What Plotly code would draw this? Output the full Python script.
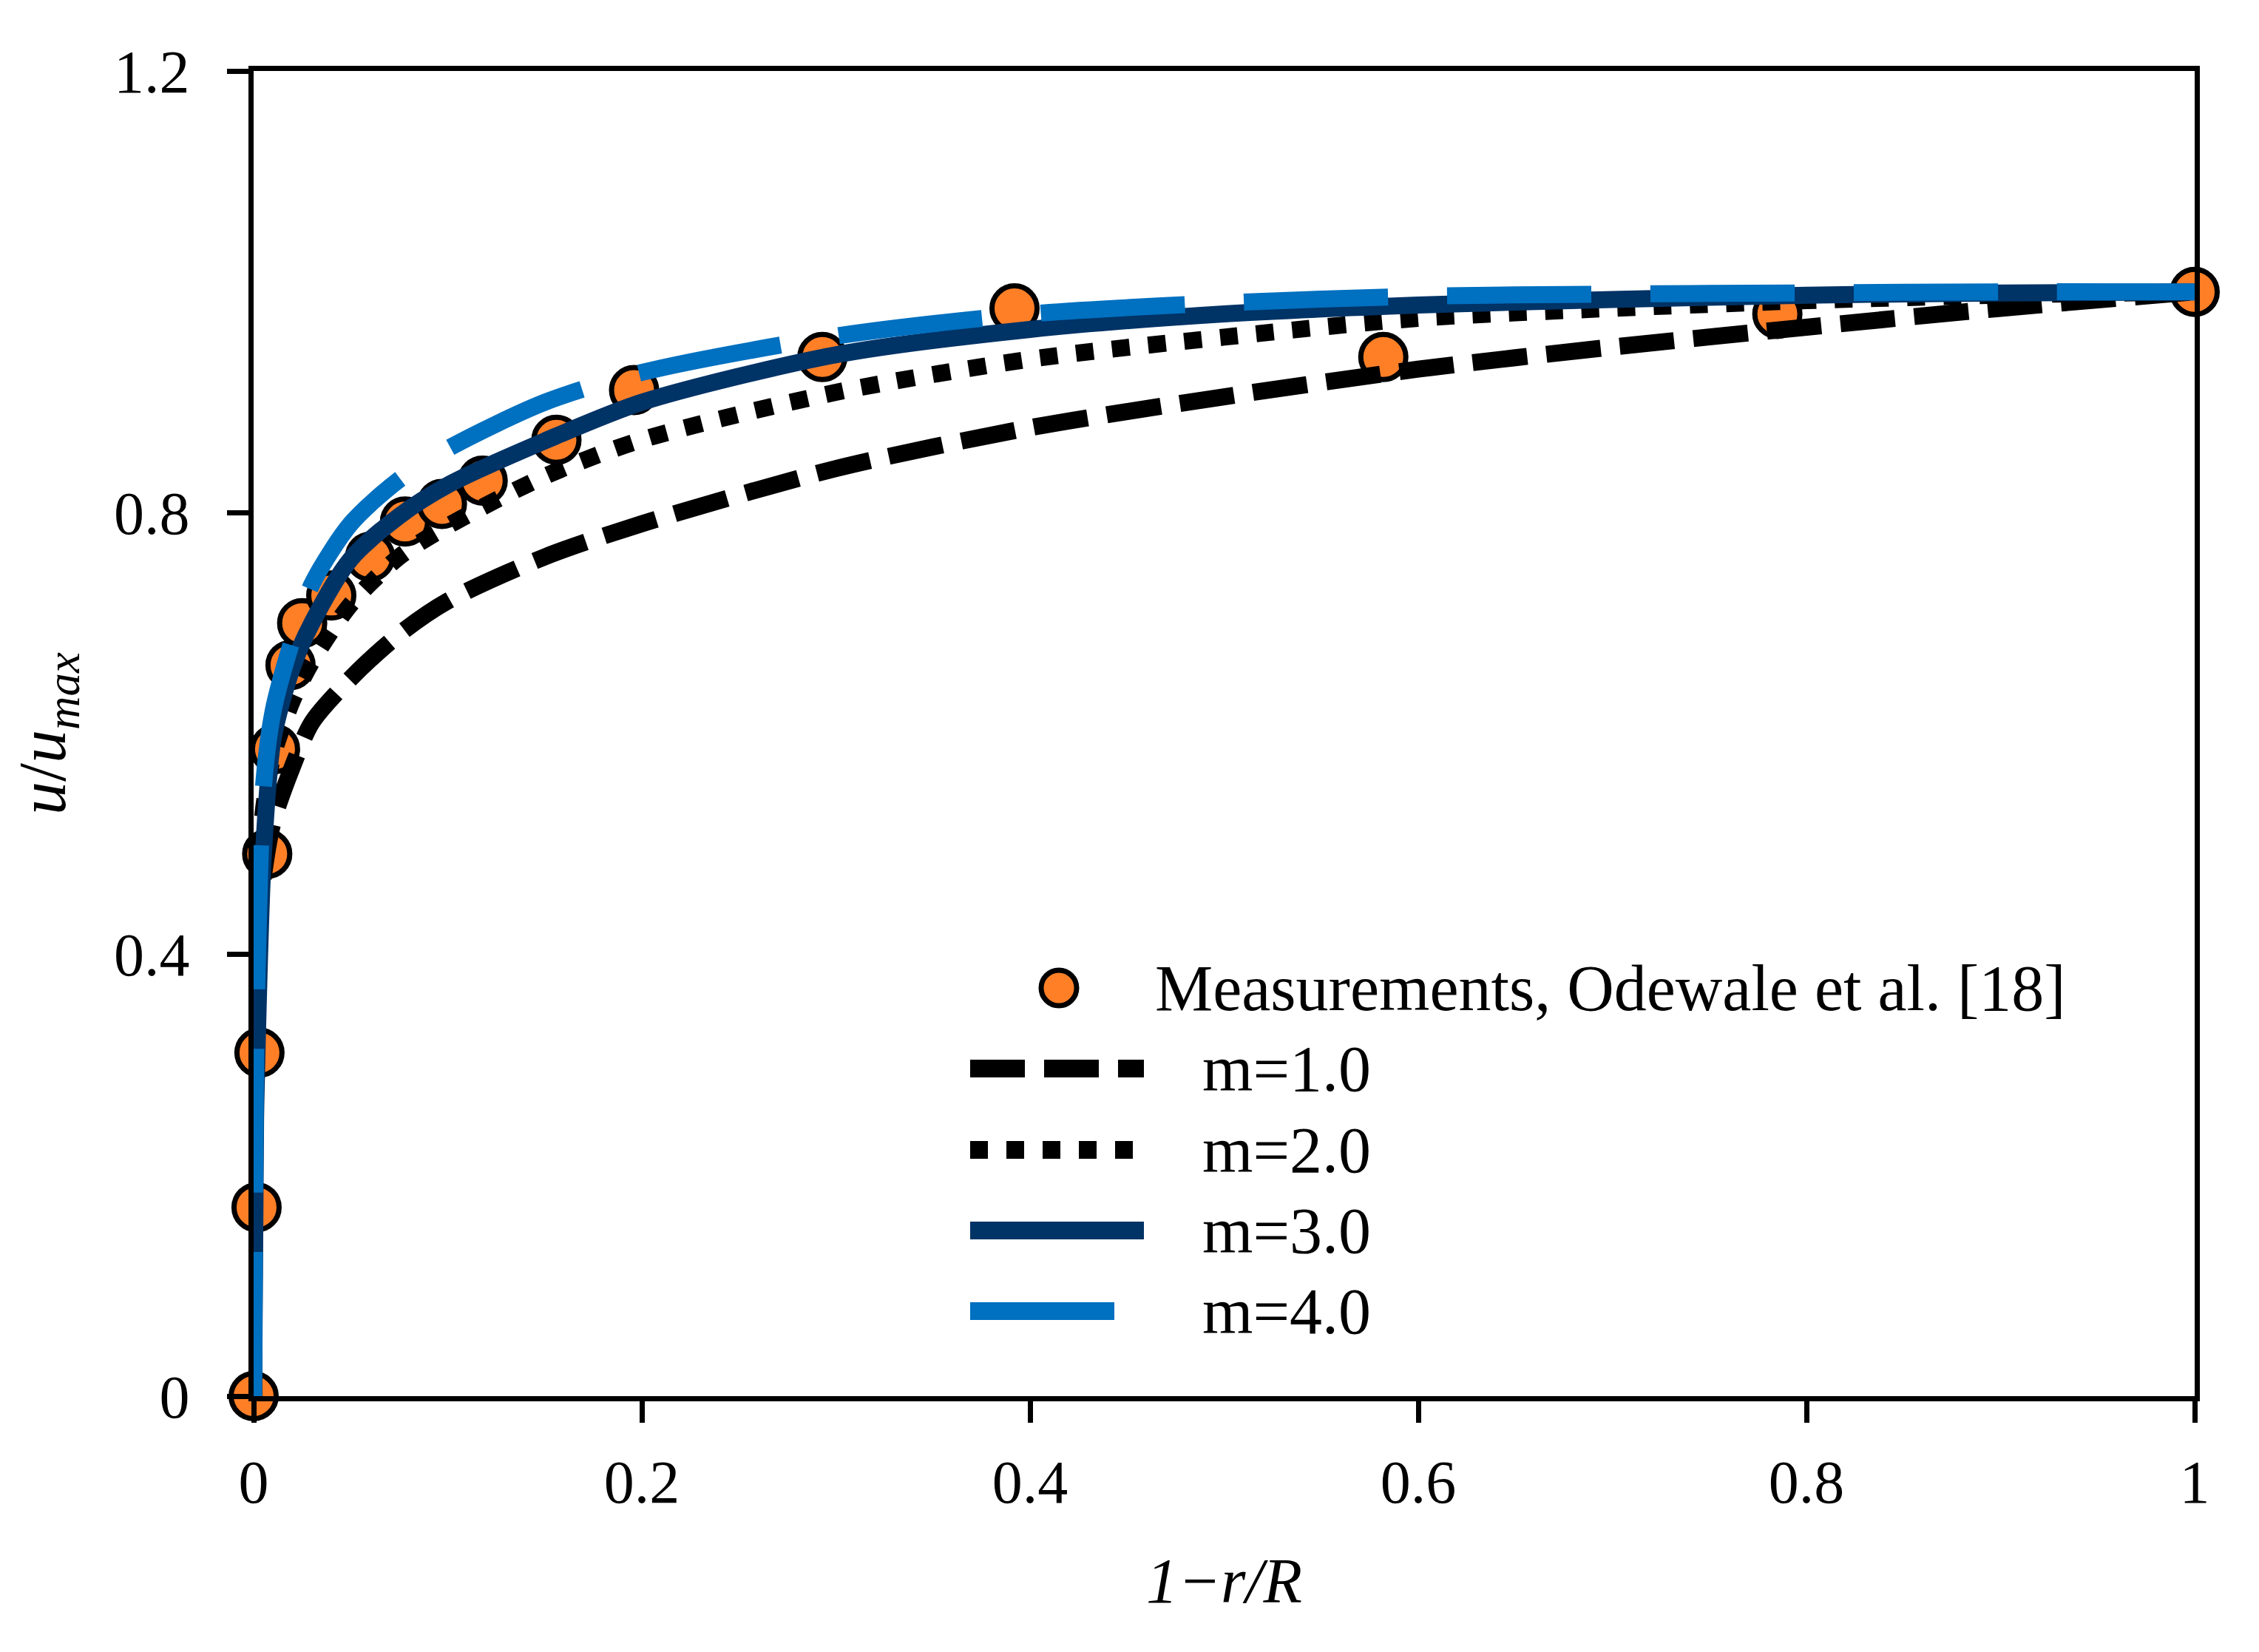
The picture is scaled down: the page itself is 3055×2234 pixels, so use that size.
import plotly.graph_objects as go

x_meas = [0, 0.0015, 0.003, 0.007, 0.011, 0.019, 0.025, 0.040, 0.060, 0.078,
          0.097, 0.118, 0.156, 0.196, 0.293, 0.392, 0.582, 0.785, 1.0]
y_meas = [0, 0.171, 0.311, 0.491, 0.586, 0.662, 0.700, 0.725, 0.760, 0.792,
          0.808, 0.829, 0.866, 0.911, 0.941, 0.985, 0.941, 0.980, 1.0]

# model curves, values read at these positions
x_model = [0, 0.001, 0.002, 0.005, 0.01, 0.02, 0.03, 0.05, 0.075, 0.1,
           0.15, 0.2, 0.3, 0.4, 0.5, 0.6, 0.7, 0.8, 0.9, 1.0]
m1 = [0, 0.37, 0.41, 0.47, 0.52, 0.57, 0.61, 0.65, 0.69, 0.72,
      0.76, 0.79, 0.84, 0.877, 0.905, 0.93, 0.95, 0.968, 0.985, 1.0]
m2 = [0, 0.36, 0.44, 0.53, 0.58, 0.63, 0.665, 0.717, 0.76, 0.788,
      0.833, 0.866, 0.909, 0.939, 0.959, 0.976, 0.985, 0.992, 0.997, 1.0]
m3 = [0, 0.25, 0.33, 0.49, 0.595, 0.66, 0.70, 0.758, 0.797, 0.825,
      0.865, 0.90, 0.943, 0.966, 0.98, 0.988, 0.993, 0.997, 0.999, 1.0]
m4 = [0, 0.30, 0.40, 0.55, 0.62, 0.685, 0.735, 0.79, 0.83, 0.858,
      0.90, 0.927, 0.96, 0.98, 0.99, 0.996, 0.998, 0.999, 1.0, 1.0]

x_ticks = [0, 0.2, 0.4, 0.6, 0.8, 1]
y_ticks = [0, 0.4, 0.8, 1.2]

labels = ["m=1.0", "m=2.0", "m=3.0", "m=4.0"]
meas_label = "Measurements, Odewale et al. [18]"

FONT = "Liberation Serif"
ORANGE = "#FF7F27"
NAVY = "#003366"
BLUE = "#0070C0"

# plot area in page pixels (page has an 8px body margin)
PAD = 8
L, R, T, B = 343, 2968, 96, 1888
W, H = 3055, 2234

styles = [
    dict(color="black", dash="74px,26px"),
    dict(color="black", dash="24px,25px"),
    dict(color=NAVY, dash="solid"),
    dict(color=BLUE, dash="195px,80px"),
]

fig = go.Figure()

fig.add_trace(go.Scatter(
    x=x_meas, y=y_meas, mode="markers", name=meas_label,
    marker=dict(size=61, color=ORANGE, line=dict(color="black", width=7)),
    cliponaxis=False, showlegend=False))

for lab, ys, st in zip(labels, [m1, m2, m3, m4], styles):
    fig.add_trace(go.Scatter(
        x=x_model, y=ys, mode="lines", name=lab, showlegend=False,
        line=dict(color=st["color"], dash=st["dash"], width=23,
                  shape="spline", smoothing=0.8)))


def paper(X, Y):
    return (X - L) / (R - L), (B - Y) / (B - T)


# hand-made legend so the samples can be as long as in the original
shapes = []
annotations = []
cx, cy = paper(1432, 1336)
shapes.append(dict(type="circle", xref="paper", yref="paper",
                   xsizemode="pixel", ysizemode="pixel",
                   xanchor=cx, yanchor=cy, x0=-24, x1=24, y0=-24, y1=24,
                   fillcolor=ORANGE, line=dict(color="black", width=7)))
tx, ty = paper(1560, 1336)
annotations.append(dict(text=meas_label, x=tx, y=ty, xref="paper", yref="paper",
                        xanchor="left", yanchor="middle", showarrow=False,
                        font=dict(size=88)))

rows_y = [1445, 1555, 1664, 1773]
rows_end = [1547, 1537, 1547, 1510]
for lab, st, ry, xe in zip(labels, styles, rows_y, rows_end):
    x0, y0 = paper(1312, ry)
    x1, _ = paper(xe, ry)
    shapes.append(dict(type="line", xref="paper", yref="paper",
                       x0=x0, x1=x1, y0=y0, y1=y0,
                       line=dict(color=st["color"], dash=st["dash"], width=24)))
    tx, ty = paper(1624, ry)
    annotations.append(dict(text=lab, x=tx, y=ty, xref="paper", yref="paper",
                            xanchor="left", yanchor="middle", showarrow=False,
                            font=dict(size=88)))

axis_common = dict(showline=True, linecolor="black", linewidth=7, mirror=True,
                   ticks="outside", ticklen=29, tickwidth=7, tickcolor="black",
                   showgrid=False, zeroline=False)

fig.update_layout(
    width=W, height=H,
    margin=dict(l=L - PAD, r=W - R + PAD, t=T - PAD, b=H - B + PAD),
    plot_bgcolor="white", paper_bgcolor="white",
    font=dict(family=FONT, size=82, color="black"),
    shapes=shapes, annotations=annotations,
    xaxis=dict(range=[0, 1], tickvals=x_ticks, ticklabelstandoff=10,
               title=dict(text="<i>1−r/R</i>", standoff=60,
                          font=dict(size=86)),
               **axis_common),
    yaxis=dict(range=[0, 1.2], tickvals=y_ticks, ticklabelstandoff=34,
               title=dict(text="<i>u</i>/<i>u</i><sub><i>max</i></sub>",
                          standoff=44, font=dict(size=90)),
               **axis_common),
)

fig.write_html("out.html")
